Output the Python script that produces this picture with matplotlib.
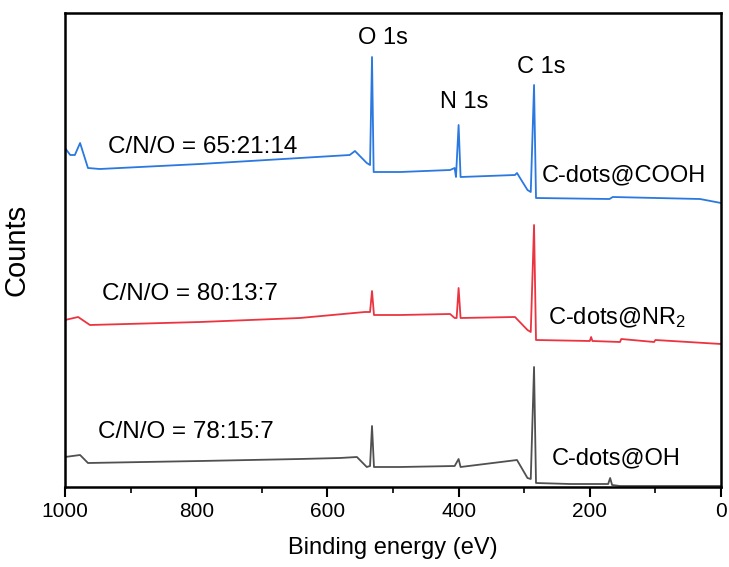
import numpy as np
import matplotlib
matplotlib.use('Agg')
import matplotlib.pyplot as plt

plt.rcParams['font.family'] = ['Liberation Sans', 'DejaVu Sans']
plt.rcParams['mathtext.fontset'] = 'custom'
plt.rcParams['mathtext.rm'] = 'Liberation Sans'
plt.rcParams['mathtext.it'] = 'Liberation Sans'

# XPS survey spectra (binding energy in eV, counts in arbitrary units)
e_cooh = [1000, 992, 985, 977, 965, 947, 794, 642, 566, 558, 540, 535, 532, 529.5, 489, 413, 406, 404, 400, 397,
          314, 311, 295, 290, 285, 282, 170, 165, 32, 0]
c_cooh = [339, 332, 332, 344, 319, 318, 323, 329, 332, 336, 324, 322, 430, 315, 315, 317, 319, 310, 362, 310,
          312, 314, 297, 295, 402, 289, 288, 290, 288, 284]

e_nr2 = [1000, 980, 962, 794, 642, 543, 535, 532, 529, 489, 413, 406, 403, 400, 397, 314, 295, 290, 285, 282,
         200, 198, 196, 154, 152, 102, 100, 0]
c_nr2 = [167, 170, 162, 165, 169, 175, 175, 196, 172, 172, 173, 169, 169, 199, 169, 170, 157, 155, 262, 147,
         146, 150, 146, 145, 148, 145, 147, 143]

e_oh = [1000, 977, 965, 794, 642, 581, 555, 540, 535, 532, 529, 489, 406, 400, 397, 311, 295, 290, 285, 282,
        230, 172, 169, 166, 154, 0]
c_oh = [30, 32, 24, 26, 28, 29, 30, 20, 21, 61, 20, 20, 21, 28, 20, 27, 9, 8, 120, 4,
        3, 3, 9, 2, 1, 1]

fig = plt.figure(figsize=(7.29, 5.67), dpi=100)
ax = fig.add_axes([65/729, 1 - 487/567, 656/729, 474/567])

ax.plot(e_cooh, c_cooh, color='#2a78e0', linewidth=1.3)
ax.plot(e_nr2, c_nr2, color='#ec3440', linewidth=1.3)
ax.plot(e_oh, c_oh, color='#505050', linewidth=1.3)

ax.set_xlim(1000, 0)
ax.set_ylim(0, 474)
ax.set_yticks([])
ax.set_xticks(np.arange(0, 1001, 200))
ax.set_xticks(np.arange(0, 1001, 100), minor=True)
ax.tick_params(axis='x', which='major', direction='out', length=7, width=1.5, labelsize=15, pad=4)
ax.tick_params(axis='x', which='minor', direction='out', length=4, width=1.2)
for s in ax.spines.values():
    s.set_linewidth(1.8)

ax.set_xlabel('Binding energy (eV)', fontsize=17)
ax.xaxis.set_label_coords(0.5, -0.105)
ax.set_ylabel('Counts', fontsize=21)
ax.yaxis.set_label_coords(-0.053, 0.5)

# peak labels
ax.text(515, 449, 'O 1s', fontsize=17, ha='center', va='center')
ax.text(392, 385, 'N 1s', fontsize=17, ha='center', va='center')
ax.text(274, 420, 'C 1s', fontsize=17, ha='center', va='center')

# sample labels
ax.text(934, 340, 'C/N/O = 65:21:14', fontsize=17.5, ha='left', va='center')
ax.text(273, 312, 'C-dots@COOH', fontsize=17, ha='left', va='center')
ax.text(944, 193, 'C/N/O = 80:13:7', fontsize=17.5, ha='left', va='center')
ax.text(264, 169, 'C-dots@NR$_2$', fontsize=17, ha='left', va='center')
ax.text(950, 55, 'C/N/O = 78:15:7', fontsize=17.5, ha='left', va='center')
ax.text(258, 29, 'C-dots@OH', fontsize=17, ha='left', va='center')

fig.savefig('out.png', dpi=100)
